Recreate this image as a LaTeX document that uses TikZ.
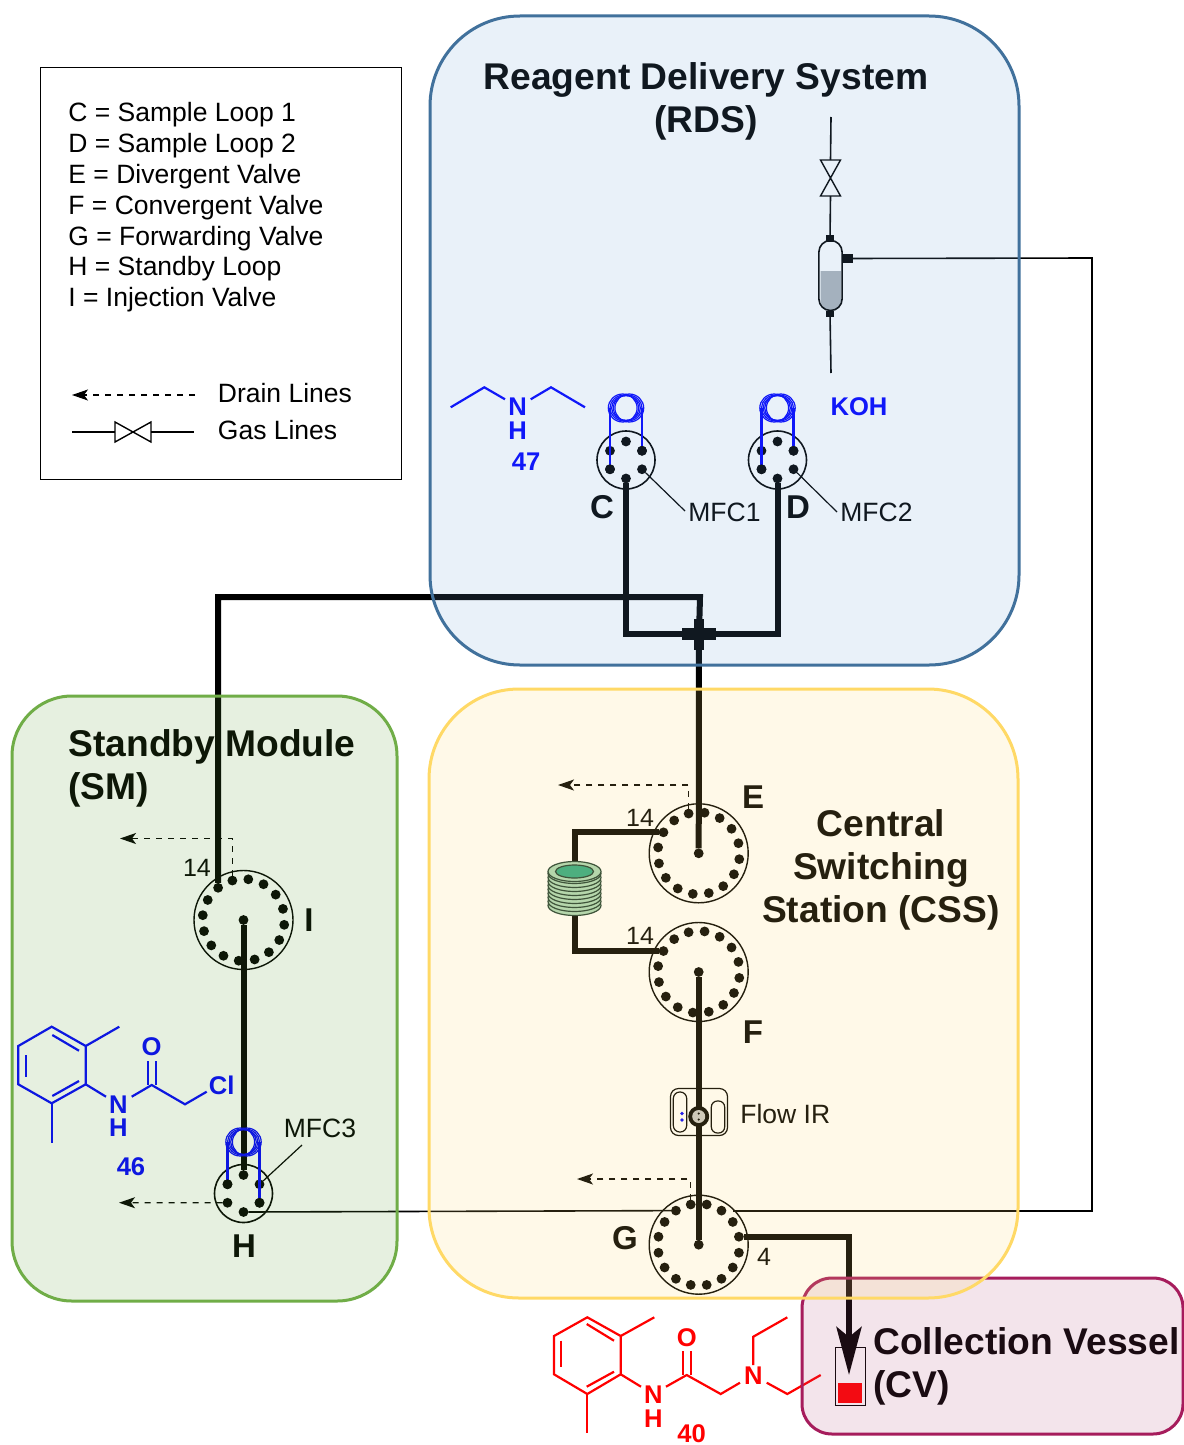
\documentclass[tikz,border=0pt]{standalone}
\usepackage{fontspec}
\setmainfont{Liberation Sans}
\usetikzlibrary{arrows.meta,calc}
\definecolor{RdsFill}{HTML}{6CA2D7}
\definecolor{RdsLine}{HTML}{41719C}
\definecolor{CssFill}{HTML}{FFD966}
\definecolor{SmFill}{HTML}{589B30}
\definecolor{SmLine}{HTML}{70AD47}
\definecolor{CvFill}{HTML}{AF4B7A}
\definecolor{CvLine}{HTML}{A61C5C}
\definecolor{Ring}{HTML}{A9D6B8}
\definecolor{RingDark}{HTML}{1E3D33}
\definecolor{Teal}{HTML}{2FA884}
\definecolor{Liquid}{HTML}{AEB4BA}
\tikzset{
  panel/.style={rectangle,outer sep=0pt,line width=1.5pt,fill opacity=.15,draw opacity=1},
  legendbox/.style={rectangle,draw,outer sep=0pt,line width=.5pt,minimum width=180.5pt,minimum height=205.5pt},
  plain/.style={inner sep=0pt,font=\fontsize{13.25}{15.4}\selectfont},
  title/.style={inner sep=0pt,align=center,font=\fontsize{18.6}{21.4}\selectfont\bfseries},
  letter/.style={inner sep=0pt,font=\fontsize{16.5}{18}\selectfont\bfseries},
  num/.style={inner sep=0pt,font=\fontsize{12.5}{14}\selectfont},
  atom/.style={inner sep=0pt,font=\fontsize{12.8}{14}\selectfont\bfseries},
  valvebig/.style={circle,draw,outer sep=0pt,line width=.7pt,minimum size=49.5pt},
  valvesmall/.style={circle,draw,outer sep=0pt,line width=.8pt,minimum size=29pt},
  portdot/.style={circle,fill,inner sep=0pt,outer sep=0pt,minimum size=4.9pt},
  tube/.style={line width=3pt},
  gasline/.style={line width=.8pt},
  drain/.style={line width=.6pt,dash pattern=on 3pt off 3pt,-{Stealth[length=8pt,width=5.5pt,inset=2pt]}},
  mfcline/.style={line width=.6pt},
  loopline/.style={blue,line width=1.4pt},
  bond/.style={line width=1.1pt},
  capbox/.style={rectangle,fill,inner sep=0pt,outer sep=0pt},
  gasvalve/.style={rectangle,inner sep=0pt,outer sep=0pt,minimum width=18pt,minimum height=10pt}
}
% valve with 16 ports and one centre port
\newcommand\bigvalve[3]{%
  \node[valvebig] (#1) at (#2) {};
  \foreach \k in {1,...,16}{\path (#1) ++({22.5*\k-11.25+#3}:41) node[portdot] (#1-\k) {};}
  \node[portdot] (#1-c) at (#1) {};
}
% valve with 6 ports
\newcommand\smallvalve[2]{%
  \node[valvesmall] (#1) at (#2) {};
  \foreach \k/\a in {t/-90,tr/-30,br/30,b/90,bl/150,tl/210}{\path (#1) ++(\a:18.5) node[portdot] (#1-\k) {};}
}
% sample loop coil
\newcommand\loopcoil[2]{%
  \coordinate (#1) at (#2);
  \foreach \d/\r in {-3.3/14,-1.6/13,0/12.2,1.6/13,3.3/14}{\draw[blue,line width=.6pt] ($(#1)+(\d,0)$) ellipse [x radius=14.4,y radius=\r];}
}
% gas valve
\newcommand\bowvalve[3]{%
  \node[gasvalve,rotate=#3] (#1) at (#2) {};
  \draw[line width=.7pt] (#1.south west)--(#1.north west)--(#1.south east)--(#1.north east)--cycle;
}
\begin{document}
\begin{tikzpicture}[x=.5pt,y=-.5pt]
    \useasboundingbox (0,0) rectangle (1183,1445);
    \fill[white] (0,0) rectangle (1183,1445);

    % legend
    \node[legendbox] (legend) at (220.5,273.5) {};
    \node[plain,anchor=west,align=left] (keys) at (68,207.5) {C = Sample Loop 1\\D = Sample Loop 2\\E = Divergent Valve\\F = Convergent Valve\\G = Forwarding Valve\\H = Standby Loop\\I = Injection Valve};
    \coordinate (drainR) at (195,395); \coordinate (drainL) at (72,395);
    \draw[drain] (drainR)--(drainL);
    \node[plain,anchor=west] (drainkey) at (217.5,393) {Drain Lines};
    \bowvalve{keyvalve}{133,432}{0}
    \coordinate (keyL) at (72,432); \coordinate (keyR) at (194,432);
    \draw[gasline] (keyL)--(keyvalve.west); \draw[gasline] (keyvalve.east)--(keyR);
    \node[plain,anchor=west] (gaskey) at (217.5,430) {Gas Lines};

    % valves
    \smallvalve{C}{626,460}
    \smallvalve{D}{777.5,460}
    \smallvalve{H}{243.5,1193.5}
    \bigvalve{E}{698.7,853.3}{-3}
    \bigvalve{F}{698.7,972}{-3}
    \bigvalve{G}{698.7,1244.7}{0}
    \bigvalve{I}{243.5,920}{-4.5}

    % main tubes
    \coordinate (tee) at (699,634);
    \coordinate (topR) at (700,597);
    \draw[tube] (C-b) |- (tee) -| (D-b);
    \draw[tube] (E-c)--(tee);
    \draw[tube] (I-11) |- (topR)--(tee);
    \node[capbox,minimum width=17pt,minimum height=6pt] (teeH) at (tee) {};
    \node[capbox,minimum width=5pt,minimum height=15.5pt] (teeV) at (tee) {};
    \draw[tube] (I-c)--(H-t);
    \draw[tube] (F-c)--(G-c);

    % reactor between E and F
    \coordinate (reactorT) at (575,870);
    \coordinate (reactorB) at (575,905);
    \draw[tube] (E-10) -| (reactorT);
    \draw[tube] (F-10) -| (reactorB);
    \foreach \y in {905.5,901.5,...,873.5}{\draw[draw=RingDark,fill=Ring,line width=.6pt] (574.5,\y) ellipse [x radius=26.5,y radius=10];}
    \draw[draw=RingDark,fill=Ring,line width=.6pt] (574.5,871.5) ellipse [x radius=26.5,y radius=10];
    \draw[draw=RingDark,fill=Teal,line width=.6pt] (574.5,871.5) ellipse [x radius=19,y radius=6.5];

    % flow cell
    \node[rectangle,draw,rounded corners=4pt,line width=.6pt,minimum width=28.5pt,minimum height=23.5pt] (flowir) at (699,1112) {};
    \node[rectangle,draw,rounded corners=3.2pt,line width=.6pt,minimum width=6.5pt,minimum height=20pt] (pillL) at (680,1112) {};
    \node[rectangle,draw,rounded corners=3pt,line width=.6pt,minimum width=6.2pt,minimum height=16pt] (pillR) at (718,1117) {};
    \node[circle,fill,minimum size=10.5pt,inner sep=0pt] (disk) at (698.7,1116.5) {};
    \node[circle,fill=black!22,minimum size=6.5pt,inner sep=0pt] (diskin) at (698.7,1116.5) {};
    \node[circle,fill,minimum size=1.2pt,inner sep=0pt] (dotA) at (698.7,1113.5) {};
    \node[circle,fill,minimum size=1.2pt,inner sep=0pt] (dotB) at (698.7,1119.5) {};
    \node[circle,fill=blue,minimum size=1.8pt,inner sep=0pt] (bluA) at (682,1113.5) {};
    \node[circle,fill=blue,minimum size=1.8pt,inner sep=0pt] (bluB) at (682,1120) {};
    \node[plain,anchor=west] (flowlabel) at (740,1114) {Flow IR};

    % sample loops
    \loopcoil{Cloop}{626,408}
    \loopcoil{Dloop}{777.5,408}
    \loopcoil{Hloop}{243.5,1142}
    \draw[loopline] (C-bl.center)--(C-bl.center |- Cloop);
    \draw[loopline] (C-tr.center)--(C-tr.center |- Cloop);
    \draw[loopline] (D-bl.center)--(D-bl.center |- Dloop);
    \draw[loopline] (D-tr.center)--(D-tr.center |- Dloop);
    \draw[loopline] (H-tl.center)--(H-tl.center |- Hloop);
    \draw[loopline] (H-br.center)--(H-br.center |- Hloop);
    % ports over the loop ends
    \node[portdot] (Cbl) at (C-bl) {}; \node[portdot] (Ctr) at (C-tr) {};
    \node[portdot] (Dbl) at (D-bl) {}; \node[portdot] (Dtr) at (D-tr) {};
    \node[portdot] (Htl) at (H-tl) {}; \node[portdot] (Hbr) at (H-br) {};

    % MFC labels
    \node[plain,anchor=west] (mfc1) at (688,512) {MFC1};
    \node[plain,anchor=west] (mfc2) at (840,512) {MFC2};
    \node[plain,anchor=west] (mfc3) at (283.5,1128) {MFC3};
    \coordinate (mfc1end) at (685,511); \coordinate (mfc2end) at (837,512); \coordinate (mfc3end) at (302,1145);
    \draw[mfcline] (C-br)--(mfc1end);
    \draw[mfcline] (D-br)--(mfc2end);
    \draw[mfcline] (H-tr)--(mfc3end);

    % KOH vessel and gas line
    \coordinate (gastop) at (831,117); \coordinate (gasbot) at (831,373);
    \coordinate (rightT) at (1092,258); \coordinate (rightB) at (1092,1211); \coordinate (gedge) at (733,1211);
    \bowvalve{kohvalve}{830.5,178}{90}
    \fill[Liquid] (820.5,271) -- (841,271) {[rounded corners=5pt] -- (841,310) -- (820.5,310)} -- cycle;
    \node[rectangle,draw,rounded corners=5.75pt,line width=.8pt,minimum width=11.6pt,minimum height=35pt] (koh) at (830.5,275.5) {};
    \node[capbox,minimum width=4.2pt,minimum height=3.4pt] (capT) at (830,238.3) {};
    \node[capbox,minimum width=4.2pt,minimum height=3pt] (capB) at (830,313.7) {};
    \node[capbox,minimum width=5.2pt,minimum height=4.2pt] (capR) at (847.5,258.5) {};
    \draw[gasline] (gastop)--(kohvalve.east);
    \draw[gasline] (kohvalve.west)--(capT);
    \draw[gasline] (capB)--(gasbot);
    \draw[gasline] (capR.center)--(rightT)--(rightB)--(gedge);
    \draw[gasline] (H-b)--(G-11);

    % drain lines
    \coordinate (drainE) at (558,785); \coordinate (drainG) at (577,1179);
    \coordinate (drainI) at (120,838.5); \coordinate (drainH) at (119,1202.7);
    \draw[drain] (E-12) |- (drainE);
    \draw[drain] (G-12) |- (drainG);
    \draw[drain] (I-12) |- (drainI);
    \draw[drain] (H-bl)--(drainH);

    % collection vial and outlet
    \node[rectangle,draw,line width=.5pt,minimum width=15pt,minimum height=29pt,outer sep=0pt] (vial) at (850,1376) {};
    \node[rectangle,fill=red,minimum width=12.3pt,minimum height=10pt,inner sep=0pt] (vialfill) at (850,1392.7) {};
    \coordinate (vialtip) at (849,1375);
    \draw[tube,-{Stealth[length=24pt,width=12.5pt,inset=5pt]}] (G-16) -| (vialtip);

    % valve letters and numbers
    \node[letter] (lC) at (602,507) {C};
    \node[letter] (lD) at (798,507) {D};
    \node[letter] (lE) at (753,797) {E};
    \node[letter] (lF) at (753,1032) {F};
    \node[letter] (lG) at (625,1238) {G};
    \node[letter] (lH) at (244,1246) {H};
    \node[letter] (lI) at (309,920) {I};
    \node[num] (nE) at (640,818) {14};
    \node[num] (nF) at (640,936) {14};
    \node[num] (nI) at (197,868) {14};
    \node[num] (nG) at (764,1257) {4};

    % diethylamine
    \draw[blue,bond] (450.7,407.3)--(484.3,387.3)--(505,399.3);
    \draw[blue,bond] (530.7,399.3)--(551,387.3)--(585,407.3);
    \node[atom,blue] (n47) at (517.7,407) {N};
    \node[atom,blue] (h47) at (517.7,430.5) {H};
    \node[atom,blue] (t47) at (526,462) {47};
    \node[atom,blue] (tkoh) at (859,407) {KOH};

    % chloroacetamide
    \draw[blue,bond] (51.7,1026.7)--(85.7,1046)--(85.7,1084.3)--(51.7,1103.3)--(18.3,1084.3)--(18.3,1046)--cycle;
    \draw[blue,bond] (85.7,1046)--(119.3,1026.7);
    \draw[blue,bond] (51.7,1103.3)--(51.7,1143.3);
    \draw[blue,bond] (52.3,1035)--(79,1050.7);
    \draw[blue,bond] (79,1081)--(52.3,1096);
    \draw[blue,bond] (26,1055)--(26,1076.7);
    \draw[blue,bond] (85.7,1084.3)--(106,1096.7);
    \draw[blue,bond] (131.7,1096.7)--(151.7,1085)--(185,1104.3)--(206.7,1091.7);
    \draw[blue,bond] (147.7,1085)--(147.7,1060.7);
    \draw[blue,bond] (155.7,1085)--(155.7,1060.7);
    \node[atom,blue] (n46) at (118.3,1104.3) {N};
    \node[atom,blue] (h46) at (118.3,1127.3) {H};
    \node[atom,blue] (o46) at (151.7,1046.7) {O};
    \node[atom,blue] (cl46) at (221.7,1085) {Cl};
    \node[atom,blue] (t46) at (131,1167) {46};

    % product
    \draw[red,bond] (587.3,1317.3)--(620.7,1336)--(620.7,1374.3)--(587.3,1394)--(554,1374.3)--(554,1336)--cycle;
    \draw[red,bond] (620.7,1336)--(654.3,1317.3);
    \draw[red,bond] (587.3,1394)--(587.3,1433.3);
    \draw[red,bond] (586.7,1324)--(614,1340.7);
    \draw[red,bond] (614,1371.7)--(586.7,1386.7);
    \draw[red,bond] (561,1340.7)--(561,1366.7);
    \draw[red,bond] (620.7,1374.3)--(641,1386.7);
    \draw[red,bond] (666,1386.7)--(686.7,1375)--(720.7,1394)--(740,1382.7);
    \draw[red,bond] (682.7,1375)--(682.7,1351);
    \draw[red,bond] (690.7,1375)--(690.7,1351);
    \draw[red,bond] (753.3,1365)--(753.3,1336.7)--(787.3,1317.3);
    \draw[red,bond] (766.7,1382.7)--(787.3,1394)--(820.7,1375);
    \node[atom,red] (n40) at (653.3,1395) {N};
    \node[atom,red] (h40) at (653.3,1418.3) {H};
    \node[atom,red] (o40) at (686.7,1337.7) {O};
    \node[atom,red] (na40) at (753.3,1376) {N};
    \node[atom,red] (t40) at (691.7,1433.5) {40};

    % titles
    \node[title] (rdsname) at (706,101.5) {Reagent Delivery System\\(RDS)};
    \node[title,anchor=west,align=left] (smname) at (68,768) {Standby Module\\(SM)};
    \node[title] (cssname) at (881,870) {Central\\Switching\\Station (CSS)};
    \node[title,anchor=west,align=left] (cvname) at (873,1366) {Collection Vessel\\(CV)};

    % tinted panels lie over everything
    \node[panel,draw=CvLine,fill=CvFill,rounded corners=15pt,minimum width=190.5pt,minimum height=78pt] (cv) at (992.5,1356) {};
    \node[panel,draw=RdsLine,fill=RdsFill,rounded corners=45pt,minimum width=294.5pt,minimum height=324.5pt] (rds) at (724.5,340.5) {};
    \node[panel,draw=CssFill,fill=CssFill,rounded corners=45pt,minimum width=294.5pt,minimum height=304.5pt] (css) at (723.5,993.5) {};
    \node[panel,draw=SmLine,fill=SmFill,rounded corners=30pt,minimum width=192.5pt,minimum height=302.5pt] (sm) at (204.5,998.5) {};
\end{tikzpicture}
\end{document}
